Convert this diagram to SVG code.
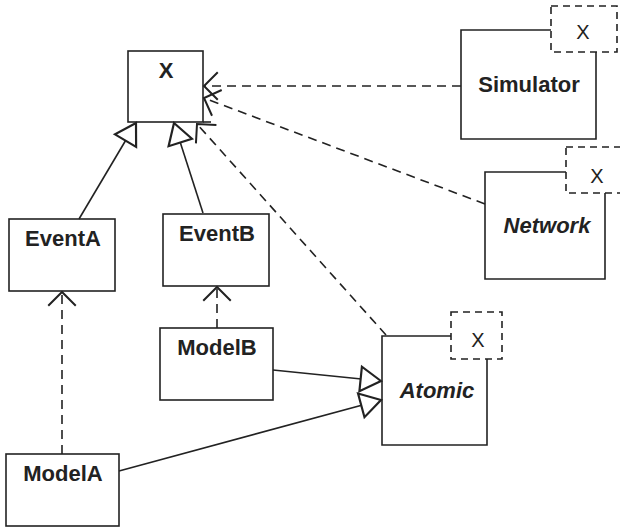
<svg xmlns="http://www.w3.org/2000/svg" width="620" height="527" viewBox="0 0 620 527">
<defs>
<style>
.box{fill:none;stroke:#222;stroke-width:1.6}
.dbox{fill:none;stroke:#222;stroke-width:1.6;stroke-dasharray:7 5}
.lbl{font-family:"Liberation Sans",Arial,sans-serif;font-weight:bold;font-size:22px;fill:#222;text-anchor:middle}
.it{font-style:italic}
.tx{font-family:"Liberation Sans",Arial,sans-serif;font-size:20px;fill:#222;text-anchor:middle}
.solid{fill:none;stroke:#222;stroke-width:1.6;marker-end:url(#tri)}
.dash{fill:none;stroke:#222;stroke-width:1.6;stroke-dasharray:9 6;marker-end:url(#vee)}
</style>
<marker id="tri" markerUnits="userSpaceOnUse" markerWidth="30" markerHeight="30" viewBox="-16 -11 18 22" refX="0" refY="0" orient="auto" overflow="visible">
<path d="M0,0 L-15,-9 L-15,9 Z" fill="#fff" stroke="#222" stroke-width="1.6" stroke-dasharray="none"/>
</marker>
<marker id="vee" markerUnits="userSpaceOnUse" markerWidth="30" markerHeight="30" viewBox="-13 -12 14 24" refX="0" refY="0" orient="auto" overflow="visible">
<path d="M-11,-11 L0,0 L-11,11" fill="none" stroke="#222" stroke-width="1.6" stroke-dasharray="none"/>
</marker>
</defs>
<rect width="620" height="527" fill="#fff"/>
<g id="connectors">
<line class="dash" x1="461" y1="86" x2="204" y2="86"/>
<line class="dash" x1="485" y1="204" x2="204" y2="98"/>
<line class="dash" x1="386" y1="335" x2="197" y2="124"/>
<line class="solid" x1="79" y1="219" x2="136" y2="123"/>
<line class="solid" x1="203" y1="213" x2="174" y2="123"/>
<line class="dash" x1="62" y1="454" x2="62" y2="292"/>
<line class="dash" x1="217" y1="328" x2="217" y2="287"/>
<line class="solid" x1="273" y1="370" x2="381" y2="381"/>
<line class="solid" x1="119" y1="471" x2="381" y2="400"/>
</g>
<g id="X">
<rect class="box" x="128" y="51" width="75" height="71"/>
<line class="box" x1="203" y1="122" x2="211" y2="122"/>
<text class="lbl" x="166" y="78">X</text>
</g>
<g id="Simulator">
<path class="box" d="M551,30 L461,30 L461,139 L596,139 L596,52"/>
<rect class="dbox" x="551" y="6" width="66" height="46"/>
<text class="tx" x="583" y="39">X</text>
<text class="lbl" x="529" y="92">Simulator</text>
</g>
<g id="Network">
<path class="box" d="M566,172 L485,172 L485,279 L605,279 L605,193"/>
<rect class="dbox" x="566" y="147" width="66" height="46"/>
<text class="tx" x="597" y="183">X</text>
<text class="lbl it" x="547" y="233">Network</text>
</g>
<g id="Atomic">
<path class="box" d="M451,336 L382,336 L382,445 L487,445 L487,359"/>
<rect class="dbox" x="451" y="312" width="51" height="47"/>
<text class="tx" x="478" y="347">X</text>
<text class="lbl it" x="437" y="398">Atomic</text>
</g>
<g id="EventA">
<rect class="box" x="9" y="219" width="106" height="72"/>
<text class="lbl" x="63" y="246">EventA</text>
</g>
<g id="EventB">
<rect class="box" x="163" y="214" width="106" height="72"/>
<text class="lbl" x="217" y="241">EventB</text>
</g>
<g id="ModelB">
<rect class="box" x="160" y="328" width="113" height="72"/>
<text class="lbl" x="217" y="355">ModelB</text>
</g>
<g id="ModelA">
<rect class="box" x="6" y="454" width="113" height="72"/>
<text class="lbl" x="63" y="481">ModelA</text>
</g>
</svg>
